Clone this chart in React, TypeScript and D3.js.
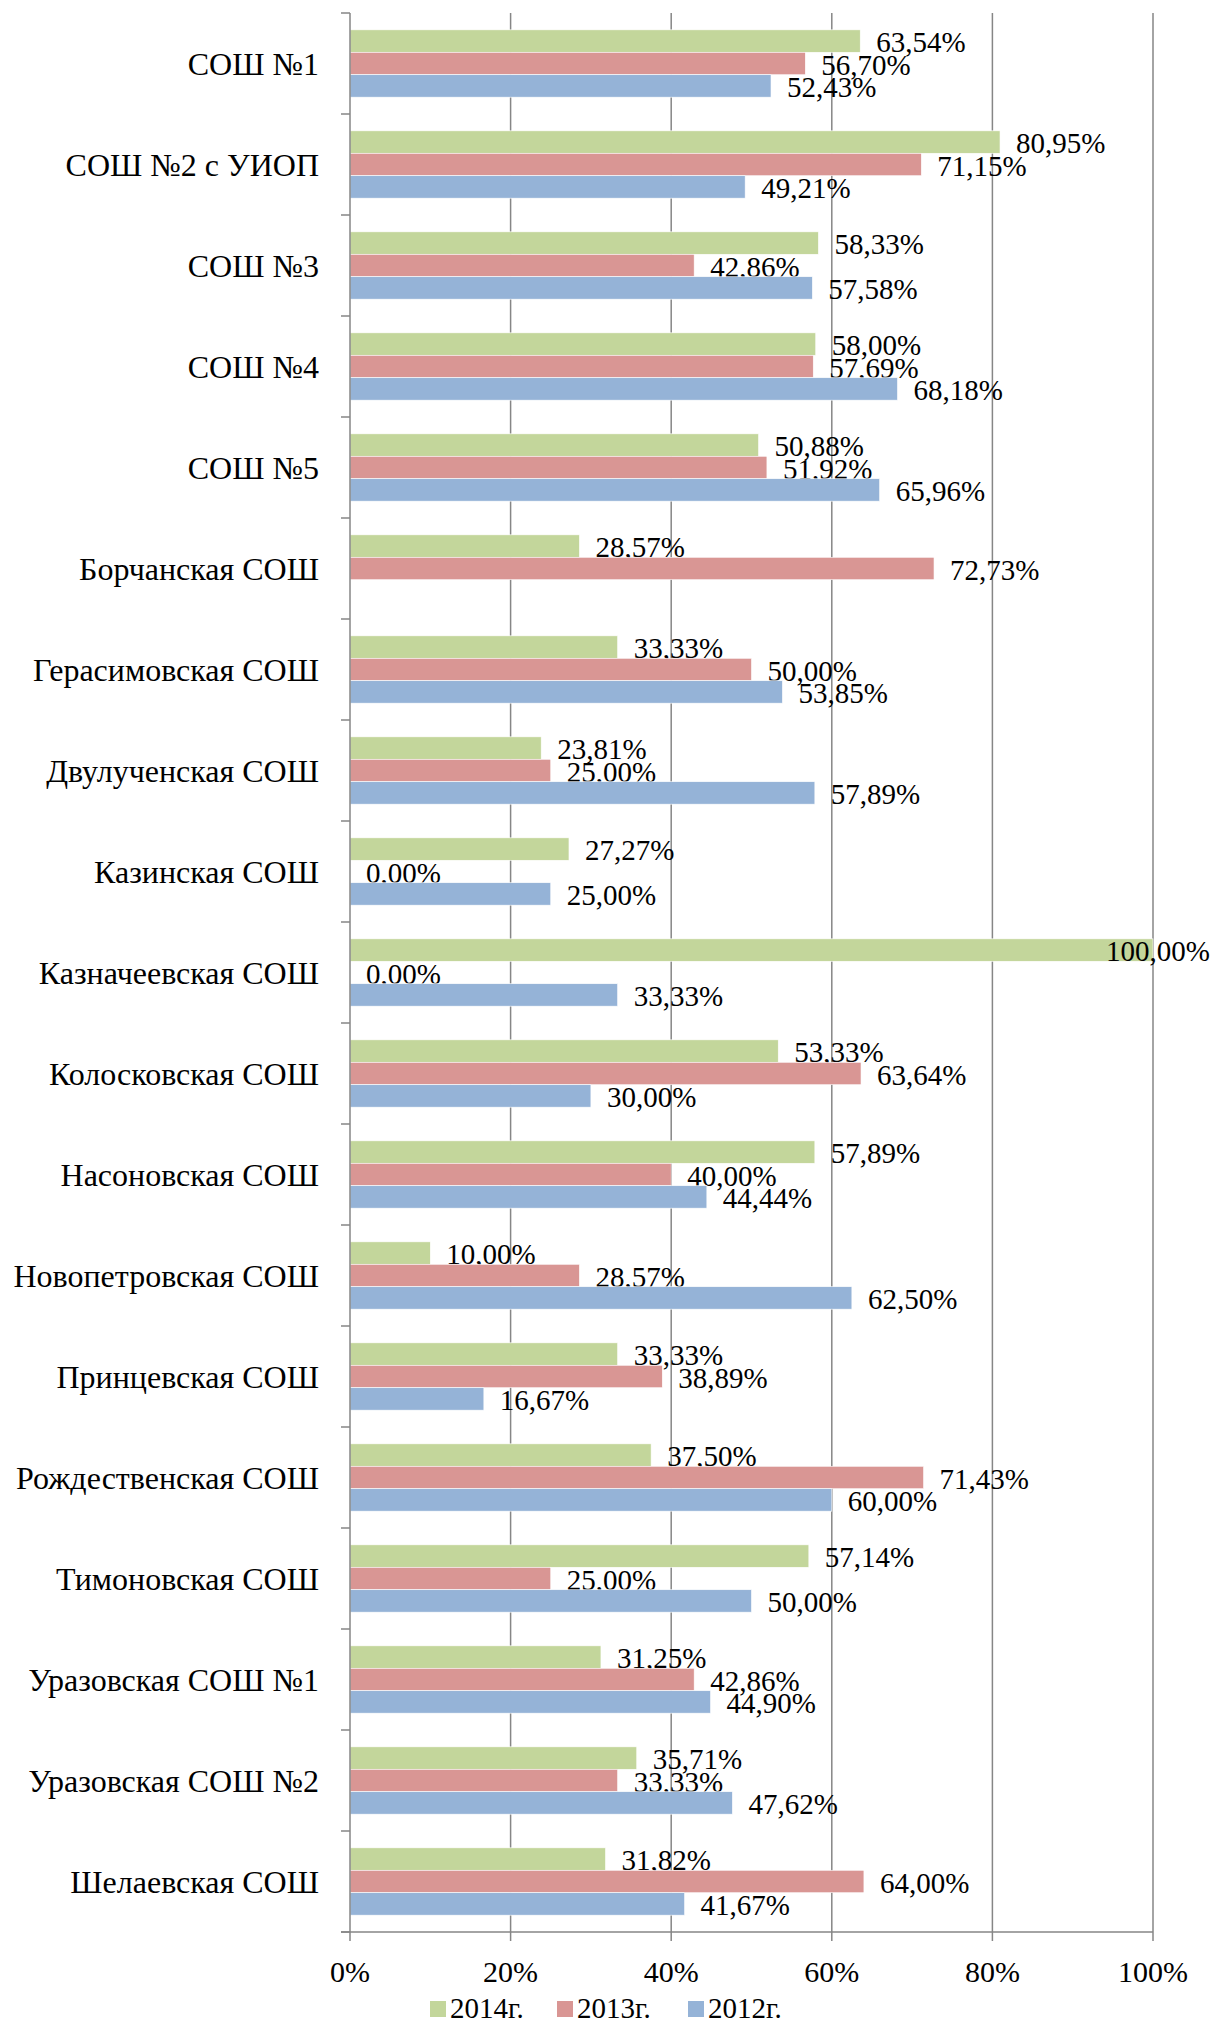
import React from 'react'
import * as d3 from 'd3'

const schools = [
  'СОШ №1', 'СОШ №2 с УИОП', 'СОШ №3', 'СОШ №4', 'СОШ №5', 'Борчанская СОШ',
  'Герасимовская СОШ', 'Двулученская СОШ', 'Казинская СОШ', 'Казначеевская СОШ',
  'Колосковская СОШ', 'Насоновская СОШ', 'Новопетровская СОШ', 'Принцевская СОШ',
  'Рождественская СОШ', 'Тимоновская СОШ', 'Уразовская СОШ №1', 'Уразовская СОШ №2',
  'Шелаевская СОШ',
]
const years = ['2014г.', '2013г.', '2012г.']
const v2014 = [63.54, 80.95, 58.33, 58.0, 50.88, 28.57, 33.33, 23.81, 27.27, 100.0, 53.33, 57.89, 10.0, 33.33, 37.5, 57.14, 31.25, 35.71, 31.82]
const v2013 = [56.7, 71.15, 42.86, 57.69, 51.92, 72.73, 50.0, 25.0, 0.0, 0.0, 63.64, 40.0, 28.57, 38.89, 71.43, 25.0, 42.86, 33.33, 64.0]
const v2012: (number | null)[] = [52.43, 49.21, 57.58, 68.18, 65.96, null, 53.85, 57.89, 25.0, 33.33, 30.0, 44.44, 62.5, 16.67, 60.0, 50.0, 44.9, 47.62, 41.67]
const xTicks = [0, 20, 40, 60, 80, 100]
const colors = ['#C3D69B', '#D99694', '#95B3D7']

const W = 1212
const H = 2024
const left = 350
const right = 1153
const top = 13
const bottom = 1932
const font = '"Liberation Serif", "Times New Roman", serif'
const grey = '#868686'

export default function App() {
  const series = [v2014, v2013, v2012]
  const x = d3.scaleLinear().domain([0, 100]).range([left, right])
  const y = d3.scaleBand<string>().domain(schools).range([top, bottom]).padding(0)
  // three bars per school, gap of 1.5 bar widths between groups
  const inner = d3.scaleBand<string>().domain(years).range([0, y.bandwidth()]).paddingInner(0).paddingOuter(0.75)
  const fmt = (v: number) => v.toFixed(2).replace('.', ',') + '%'

  return (
    <svg width={W} height={H} style={{ position: 'absolute', left: 0, top: 0, background: '#fff' }} fontFamily={font}>
      {xTicks.filter(t => t > 0).map(t => (
        <line key={'g' + t} x1={x(t)} x2={x(t)} y1={top} y2={bottom} stroke={grey} strokeWidth={1.5} />
      ))}
      {schools.map((s, i) =>
        series.map((vals, j) => {
          const v = vals[i]
          if (v == null) return null
          const by = (y(s) as number) + (inner(years[j]) as number)
          const bh = inner.bandwidth()
          const xe = x(v)
          const clamp = xe + 16 + 95 > W
          return (
            <g key={s + j}>
              {v > 0 && <rect x={x(0)} y={by} width={xe - x(0)} height={bh} fill={colors[j]} stroke="#fff" strokeWidth={0.6} />}
              <text x={clamp ? W - 2 : xe + 16} y={by + bh / 2 + 11} textAnchor={clamp ? 'end' : 'start'} fontSize={29} fill="#000">
                {fmt(v)}
              </text>
            </g>
          )
        })
      )}
      <line x1={left} x2={left} y1={top} y2={bottom} stroke={grey} strokeWidth={1.5} />
      <line x1={left - 9} x2={right} y1={bottom} y2={bottom} stroke={grey} strokeWidth={1.5} />
      {d3.range(schools.length + 1).map(i => (
        <line key={'ct' + i} x1={left - 9} x2={left} y1={top + i * y.step()} y2={top + i * y.step()} stroke={grey} strokeWidth={1.5} />
      ))}
      {xTicks.map(t => (
        <g key={'xt' + t}>
          <line x1={x(t)} x2={x(t)} y1={bottom} y2={bottom + 9} stroke={grey} strokeWidth={1.5} />
          <text x={x(t)} y={1982} textAnchor="middle" fontSize={30}>{t + '%'}</text>
        </g>
      ))}
      {schools.map(s => (
        <text key={'l' + s} x={319} y={(y(s) as number) + y.bandwidth() / 2 + 11} textAnchor="end" fontSize={32}>{s}</text>
      ))}
      {years.map((yr, j) => {
        const lx = [430, 557, 688][j]
        return (
          <g key={yr}>
            <rect x={lx} y={2001} width={16} height={16} fill={colors[j]} />
            <text x={lx + 20} y={2018} fontSize={29}>{yr}</text>
          </g>
        )
      })}
    </svg>
  )
}
